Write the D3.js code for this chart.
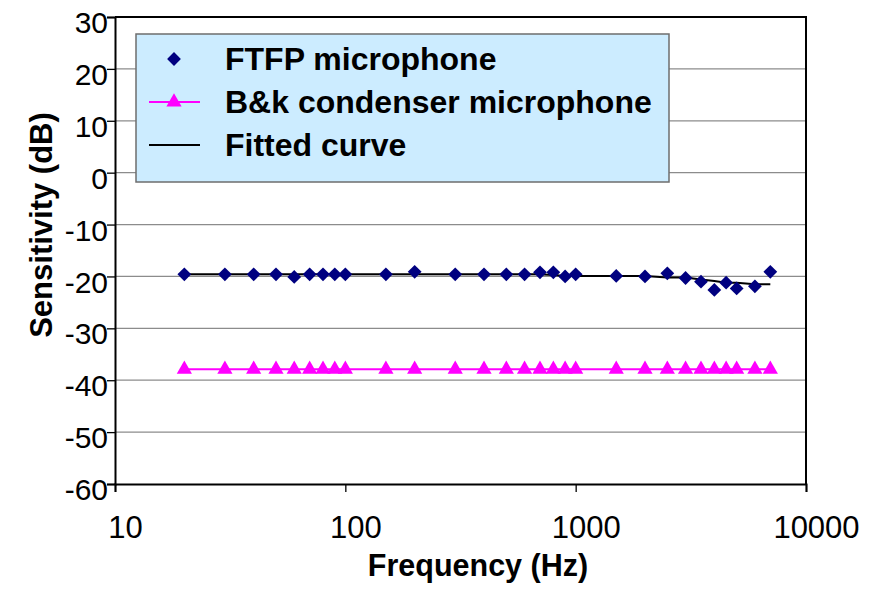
<!DOCTYPE html>
<html>
<head>
<meta charset="utf-8">
<script src="https://cdn.jsdelivr.net/npm/d3@7/dist/d3.min.js"></script>
<style>
  body { margin: 0; background: #fff; }
  text { font-family: "Liberation Sans", Arial, sans-serif; }
</style>
</head>
<body>
<div id="chart"></div>
<script>
// frequencies (Hz) shared by both series
const freqs = [20, 30, 40, 50, 60, 70, 80, 90, 100, 150, 200, 300, 400, 500, 600, 700, 800, 900,
  1000, 1500, 2000, 2500, 3000, 3500, 4000, 4500, 5000, 6000, 7000];

const ftfp = [-19.6, -19.6, -19.6, -19.6, -20.1, -19.6, -19.6, -19.6, -19.6, -19.6, -19.1, -19.6,
  -19.6, -19.6, -19.6, -19.2, -19.2, -20.0, -19.6, -19.9, -20.0, -19.4, -20.3, -21.0, -22.6,
  -21.2, -22.3, -21.9, -19.1];

const bk = [-37.9, -37.9, -37.9, -37.9, -37.9, -37.9, -37.9, -37.9, -37.9, -37.9, -37.9, -37.9,
  -37.9, -37.9, -37.9, -37.9, -37.9, -37.9, -37.9, -37.9, -37.9, -37.9, -37.9, -37.9, -37.9,
  -37.9, -37.9, -37.9, -37.9];

const fitted = [-19.6, -19.6, -19.6, -19.6, -19.6, -19.6, -19.6, -19.6, -19.6, -19.6, -19.6, -19.6,
  -19.6, -19.6, -19.6, -19.6, -19.7, -19.9, -19.9, -19.9, -19.9, -20.2, -20.2, -20.6, -20.9,
  -21.2, -21.2, -21.5, -21.5];

const xTicks = [10, 100, 1000, 10000];
const yTicks = [30, 20, 10, 0, -10, -20, -30, -40, -50, -60];
const legendLabels = ['FTFP microphone', 'B&k condenser microphone', 'Fitted curve'];

const width = 878, height = 589;
const margin = { top: 17, right: 72, bottom: 105, left: 115 };

const svg = d3.select('#chart').append('svg')
  .attr('width', width)
  .attr('height', height)

const x = d3.scaleLog()
  .domain([10, 10000])
  .range([margin.left, width - margin.right])

const y = d3.scaleLinear()
  .domain([-60, 30])
  .range([height - margin.bottom, margin.top])

// plain hyphen for negatives, like the original
const fmt = (d) => String(d)

// gridlines
svg.append('g')
  .selectAll('line')
  .data(yTicks.filter((d) => d !== 30 && d !== -60))
  .enter().append('line')
  .attr('x1', margin.left).attr('x2', width - margin.right)
  .attr('y1', (d) => y(d)).attr('y2', (d) => y(d))
  .attr('stroke', '#8c8c8c')
  .attr('stroke-width', 1.3)

// plot frame (top and right)
svg.append('path')
  .attr('d', `M${x(10)},${y(30)}H${x(10000)}V${y(-60)}`)
  .attr('fill', 'none')
  .attr('stroke', '#000')
  .attr('stroke-width', 2)

// y axis
const yAxis = svg.append('g')
  .attr('transform', `translate(${margin.left},0)`)
  .call(d3.axisLeft(y).tickValues(yTicks).tickSize(8).tickFormat(fmt))
yAxis.select('.domain').attr('stroke-width', 2)
yAxis.selectAll('.tick line').attr('stroke', '#000').attr('stroke-width', 1.3)
yAxis.selectAll('.tick text')
  .attr('x', -7)
  .attr('dy', '0.52em')
  .style('font-size', '30px')
  .attr('fill', '#000')

// x axis
const xAxis = svg.append('g')
  .attr('transform', `translate(0,${y(-60)})`)
  .call(d3.axisBottom(x).tickValues(xTicks).tickSize(8).tickFormat(fmt))
xAxis.select('.domain').attr('stroke-width', 2)
xAxis.selectAll('.tick line').attr('stroke', '#000').attr('stroke-width', 1.3)
xAxis.selectAll('.tick text')
  .attr('x', 10)
  .attr('y', 54)
  .attr('dy', 0)
  .style('font-size', '31px')
  .attr('fill', '#000')

// axis titles
svg.append('text')
  .attr('x', 478)
  .attr('y', 576)
  .attr('text-anchor', 'middle')
  .style('font-size', '30.5px')
  .style('font-weight', 'bold')
  .text('Frequency (Hz)')

svg.append('text')
  .attr('transform', 'translate(52,225) rotate(-90)')
  .attr('text-anchor', 'middle')
  .style('font-size', '31px')
  .style('font-weight', 'bold')
  .text('Sensitivity (dB)')

const lineGen = (vals) => d3.line()
  .x((d, i) => x(freqs[i]))
  .y((d) => y(d))(vals)

// B&K series
svg.append('path')
  .attr('d', lineGen(bk))
  .attr('fill', 'none')
  .attr('stroke', '#ff00ff')
  .attr('stroke-width', 2)

const tri = d3.symbol().type(d3.symbolTriangle).size(100)
svg.append('g')
  .selectAll('path')
  .data(bk)
  .enter().append('path')
  .attr('d', tri)
  .attr('transform', (d, i) => `translate(${x(freqs[i])},${y(d)})`)
  .attr('fill', '#ff00ff')

// fitted curve
svg.append('path')
  .attr('d', lineGen(fitted))
  .attr('fill', 'none')
  .attr('stroke', '#000')
  .attr('stroke-width', 2)

// FTFP points
const diamond = d3.symbol().type(d3.symbolSquare).size(95)
svg.append('g')
  .selectAll('path')
  .data(ftfp)
  .enter().append('path')
  .attr('d', diamond)
  .attr('transform', (d, i) => `translate(${x(freqs[i])},${y(d)}) rotate(45)`)
  .attr('fill', '#000080')

// legend
const lg = svg.append('g')
lg.append('rect')
  .attr('x', 136).attr('y', 34)
  .attr('width', 533).attr('height', 148)
  .attr('fill', '#ccecff')
  .attr('stroke', '#6e6e6e')
  .attr('stroke-width', 1.5)

const rowY = [59, 102, 145];
lg.append('path')
  .attr('d', diamond)
  .attr('transform', `translate(174,${rowY[0]}) rotate(45)`)
  .attr('fill', '#000080')
lg.append('line')
  .attr('x1', 149).attr('x2', 200)
  .attr('y1', rowY[1]).attr('y2', rowY[1])
  .attr('stroke', '#ff00ff').attr('stroke-width', 2)
lg.append('path')
  .attr('d', tri)
  .attr('transform', `translate(174,${rowY[1]})`)
  .attr('fill', '#ff00ff')
lg.append('line')
  .attr('x1', 149).attr('x2', 200)
  .attr('y1', rowY[2]).attr('y2', rowY[2])
  .attr('stroke', '#000').attr('stroke-width', 2)

lg.selectAll('text.lab')
  .data(legendLabels)
  .enter().append('text')
  .attr('class', 'lab')
  .attr('x', 225)
  .attr('y', (d, i) => rowY[i] + 11)
  .style('font-size', '32px')
  .style('font-weight', 'bold')
  .text((d) => d)
</script>
</body>
</html>
